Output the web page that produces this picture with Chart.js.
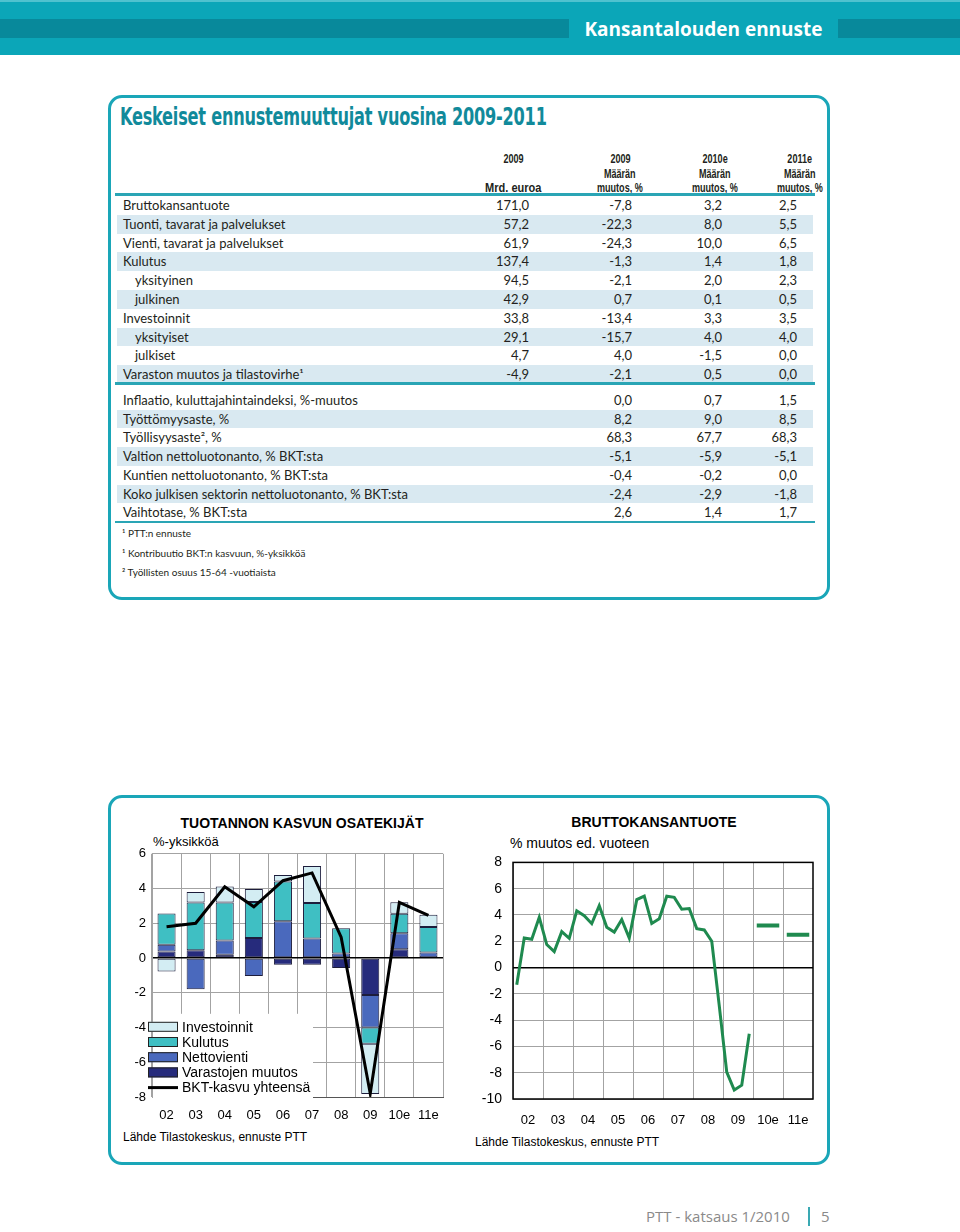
<!DOCTYPE html>
<html lang="fi">
<head>
<meta charset="utf-8">
<script src="https://cdn.jsdelivr.net/npm/chart.js@4.4.1/dist/chart.umd.min.js"></script>
<style>
  body { margin: 0; background: #fff; }
  #page { position: relative; width: 960px; height: 1232px; overflow: hidden; font-family: Lato, "Liberation Sans", sans-serif; color: #231f20; }
  .abs { position: absolute; white-space: nowrap; }
  #banner { left: 0; top: 0; width: 960px; height: 55px; background: #0ba6b8; border-top: 2px solid #4fc2cf; box-sizing: border-box; }
  #band { left: 0; top: 19px; width: 960px; height: 19px; background: #08899b; }
  #osio { left: 569px; top: 19px; width: 269px; height: 19px; background: #0ba6b8; color: #fff; font: bold 19px "Open Sans", sans-serif; line-height: 20px; text-align: center; }
  .laatikko { position: absolute; left: 108px; width: 722px; border: 3px solid #1aa6b8; border-radius: 14px; box-sizing: border-box; }
  #otsikko { left: 120px; top: 103px; font: bold 24px "Liberation Sans Narrow", "DejaVu Sans Condensed", sans-serif; color: #118a9b; transform-origin: left center; letter-spacing: -0.3px; }
  .hd { position: absolute; width: 80px; text-align: center; line-height: 14px; }
  .hd span { display: inline-block; font: bold 13px "Liberation Sans", Arial, sans-serif; transform-origin: center center; }
  .viiva { position: absolute; left: 115px; width: 700px; height: 2px; background: #2aa5b5; }
  .rivi { position: absolute; left: 117px; width: 696px; font-size: 13px; }
  .rivi.varjo { background: #d9e9f1; }
  .rivi span { position: absolute; top: 0; }
  .alaviite { font-size: 10px; left: 122px; }
  .ct { font-family: "Liberation Sans", Arial, sans-serif; color: #000; }
</style>
</head>
<body>
<div id="page">
  <div id="banner" class="abs"></div>
  <div id="band" class="abs"></div>
  <div id="osio" class="abs">Kansantalouden ennuste</div>

  <div class="laatikko" style="top:95px;height:505px;"></div>
  <div id="otsikko" class="abs">Keskeiset ennustemuuttujat vuosina 2009-2011</div>
  <div id="taulukko"></div>

  <div class="laatikko" style="top:795px;height:370px;"></div>
  <div class="abs ct" style="left:152px;top:814px;width:300px;text-align:center;font-weight:bold;font-size:14px;line-height:18px;">TUOTANNON KASVUN OSATEKIJÄT</div>
  <div class="abs ct" style="left:153px;top:834px;font-size:13px;line-height:16px;">%-yksikköä</div>
  <div class="abs" style="left:110px;top:840px;width:345px;height:287px;"><canvas id="kasvu" width="345" height="287"></canvas></div>
  <div class="abs ct" style="left:123px;top:1129px;font-size:12px;line-height:16px;">Lähde Tilastokeskus, ennuste PTT</div>

  <div class="abs ct" style="left:504px;top:813px;width:300px;text-align:center;font-weight:bold;font-size:14px;line-height:18px;">BRUTTOKANSANTUOTE</div>
  <div class="abs ct" style="left:510px;top:834px;font-size:14px;line-height:18px;">% muutos ed. vuoteen</div>
  <div class="abs" style="left:470px;top:843px;width:355px;height:290px;"><canvas id="bkt" width="355" height="290"></canvas></div>
  <div class="abs ct" style="left:475px;top:1134px;font-size:12px;line-height:16px;">Lähde Tilastokeskus, ennuste PTT</div>

  <div class="abs" style="left:646px;top:1206px;font:15px 'Open Sans',sans-serif;color:#8a8a8a;line-height:20px;">PTT - katsaus 1/2010</div>
  <div class="abs" style="left:808px;top:1207px;width:2px;height:19px;background:#3aa9b3;"></div>
  <div class="abs" style="left:821px;top:1206px;font:15px 'Open Sans',sans-serif;color:#8a8a8a;line-height:20px;">5</div>
</div>

<script>
// taulukko, osa 1
const rivit1 = ["Bruttokansantuote", "Tuonti, tavarat ja palvelukset", "Vienti, tavarat ja palvelukset", "Kulutus", "yksityinen", "julkinen", "Investoinnit", "yksityiset", "julkiset", "Varaston muutos ja tilastovirhe¹"];
const sisennys1 = [0, 0, 0, 0, 1, 1, 0, 1, 1, 0];
const mrdEuroa2009 = ["171,0", "57,2", "61,9", "137,4", "94,5", "42,9", "33,8", "29,1", "4,7", "-4,9"];
const muutos2009 = ["-7,8", "-22,3", "-24,3", "-1,3", "-2,1", "0,7", "-13,4", "-15,7", "4,0", "-2,1"];
const muutos2010 = ["3,2", "8,0", "10,0", "1,4", "2,0", "0,1", "3,3", "4,0", "-1,5", "0,5"];
const muutos2011 = ["2,5", "5,5", "6,5", "1,8", "2,3", "0,5", "3,5", "4,0", "0,0", "0,0"];

// taulukko, osa 2
const rivit2 = ["Inflaatio, kuluttajahintaindeksi, %-muutos", "Työttömyysaste, %", "Työllisyysaste², %", "Valtion nettoluotonanto, % BKT:sta", "Kuntien nettoluotonanto, % BKT:sta", "Koko julkisen sektorin nettoluotonanto, % BKT:sta", "Vaihtotase, % BKT:sta"];
const arvot2009 = ["0,0", "8,2", "68,3", "-5,1", "-0,4", "-2,4", "2,6"];
const arvot2010 = ["0,7", "9,0", "67,7", "-5,9", "-0,2", "-2,9", "1,4"];
const arvot2011 = ["1,5", "8,5", "68,3", "-5,1", "0,0", "-1,8", "1,7"];

const alaviitteet = ["¹ PTT:n ennuste", "¹ Kontribuutio BKT:n kasvuun, %-yksikköä", "² Työllisten osuus 15-64 -vuotiaista"];

// kuvio 1: tuotannon kasvun osatekijät, %-yksikköä
const vuodet = ["02", "03", "04", "05", "06", "07", "08", "09", "10e", "11e"];
const varastot = [0.38, 0.45, 0.19, 1.15, -0.38, -0.38, -0.57, -2.13, 0.51, 0];
const nettovienti = [0.38, -1.8, 0.82, -1.04, 2.11, 1.13, 0.26, -1.87, 0.91, 0.32];
const kulutus = [1.8, 2.75, 2.18, 2.08, 2.29, 2.04, 1.46, -0.94, 1.13, 1.47];
const investoinnit = [-0.78, 0.6, 0.93, 0.75, 0.38, 2.13, 0, -2.89, 0.66, 0.7];
const bktKasvu = [1.8, 2.0, 4.1, 2.95, 4.45, 4.9, 1.2, -7.8, 3.2, 2.45];

// kuvio 2: bkt, % muutos ed. vuoteen, neljännesvuosittain 2002-2009
const bktNeljannes = [
  -1.3, 2.25, 2.15, 3.82,
  1.75, 1.22, 2.73, 2.22,
  4.32, 3.95, 3.34, 4.7,
  3.06, 2.7, 3.65, 2.25,
  5.17, 5.43, 3.35, 3.71,
  5.43, 5.34, 4.44, 4.49,
  2.96, 2.86, 2.0, -2.9,
  -7.95, -9.32, -8.95, -5.03
];
const ennusteVuodet = ["10e", "11e"];
const ennusteArvot = [3.2, 2.5];

// --- taulukon rakennus ---
const tk = document.getElementById("taulukko");
function lisaa(html) { tk.insertAdjacentHTML("beforeend", html); }

const otsakkeet = [
  { x: 513, r: ["2009", "", "Mrd. euroa"] },
  { x: 620, r: ["2009", "Määrän", "muutos, %"] },
  { x: 715, r: ["2010e", "Määrän", "muutos, %"] },
  { x: 800, r: ["2011e", "Määrän", "muutos, %"] },
];
otsakkeet.forEach(o => {
  o.r.forEach((t, i) => {
    lisaa(`<div class="hd" style="left:${o.x - 40}px;top:${150 + i * 14.5}px;"><span>${t}</span></div>`);
  });
});
// kapeampi otsakefontti: "muutos, %" noin 46 px, "Mrd. euroa" noin 56 px leveä
const mallit = [...tk.querySelectorAll(".hd span")];
const kerroin = 46 / mallit.find(s => s.textContent === "muutos, %").offsetWidth;
mallit.forEach(s => {
  const k = s.textContent === "Mrd. euroa" ? 56 / s.offsetWidth : kerroin;
  s.style.transform = `scaleX(${k})`;
});

const oikeat = [284, 181, 91, 16];
const rk1 = 18.8;
lisaa(`<div class="viiva" style="top:193px;height:3px;"></div>`);
rivit1.forEach((nimi, i) => {
  const top = 196 + i * rk1;
  const vals = [mrdEuroa2009[i], muutos2009[i], muutos2010[i], muutos2011[i]];
  let h = `<div class="rivi${i % 2 ? " varjo" : ""}" style="top:${top}px;height:${rk1}px;line-height:${rk1}px;">`;
  h += `<span style="left:${sisennys1[i] ? 18 : 6}px;">${nimi}</span>`;
  vals.forEach((v, k) => { h += `<span style="right:${oikeat[k]}px;">${v}</span>`; });
  lisaa(h + "</div>");
});
lisaa(`<div class="viiva" style="top:382px;height:3px;"></div>`);

const rk2 = 18.7;
rivit2.forEach((nimi, i) => {
  const top = 391 + i * rk2;
  const vals = [arvot2009[i], arvot2010[i], arvot2011[i]];
  let h = `<div class="rivi${i % 2 ? " varjo" : ""}" style="top:${top}px;height:${rk2}px;line-height:${rk2}px;">`;
  h += `<span style="left:6px;">${nimi}</span>`;
  vals.forEach((v, k) => { h += `<span style="right:${oikeat[k + 1]}px;">${v}</span>`; });
  lisaa(h + "</div>");
});
lisaa(`<div class="viiva" style="top:521px;height:2px;"></div>`);
alaviitteet.forEach((t, i) => {
  lisaa(`<div class="abs alaviite" style="top:${526 + i * 19.5}px;line-height:14px;">${t}</div>`);
});

// otsikon leveys kuten alkuperäisessä
const ots = document.getElementById("otsikko");
ots.style.transform = `scaleX(${427 / ots.scrollWidth})`;

// --- kaaviot ---
Chart.defaults.font.family = "'Liberation Sans', Arial, sans-serif";
Chart.defaults.color = "#000";
Chart.defaults.animation = false;

const harmaa = "#a3a3a3";
const nollaViiva = {
  color: c => (c.tick && c.tick.value === 0 ? "#000" : harmaa),
  lineWidth: c => (c.tick && c.tick.value === 0 ? 1.5 : 1),
};

const selite = {
  id: "selite",
  afterDraw(chart) {
    const { ctx, chartArea } = chart;
    const l = chartArea.left, t = chartArea.top;
    ctx.save();
    ctx.fillStyle = "#fff";
    ctx.fillRect(l + 1, t + 160, 160, 85);
    const ds = chart.data.datasets;
    const jarj = [3, 2, 1, 0, 4];
    ctx.font = "14px 'Liberation Sans', Arial, sans-serif";
    ctx.textBaseline = "middle";
    jarj.forEach((k, i) => {
      const y = t + 173 + i * 15.2;
      const d = ds[k];
      if (d.type === "line") {
        ctx.strokeStyle = d.borderColor;
        ctx.lineWidth = 3;
        ctx.beginPath();
        ctx.moveTo(l - 4, y);
        ctx.lineTo(l + 26, y);
        ctx.stroke();
      } else {
        ctx.fillStyle = d.backgroundColor;
        ctx.fillRect(l - 4, y - 5, 30, 10);
        ctx.strokeStyle = "#222";
        ctx.lineWidth = 1;
        ctx.strokeRect(l - 3.5, y - 4.5, 29, 9);
      }
      ctx.fillStyle = "#000";
      ctx.fillText(d.label, l + 30, y + 1);
    });
    ctx.restore();
  },
};

const palkki = { borderColor: "#1d1d3c", borderWidth: 1, borderSkipped: false, order: 1, barPercentage: 0.62, categoryPercentage: 1 };

new Chart(document.getElementById("kasvu"), {
  type: "bar",
  data: {
    labels: vuodet,
    datasets: [
      { ...palkki, label: "Varastojen muutos", data: varastot, backgroundColor: "#262b7c" },
      { ...palkki, label: "Nettovienti", data: nettovienti, backgroundColor: "#4a69bd" },
      { ...palkki, label: "Kulutus", data: kulutus, backgroundColor: "#3fbfc3" },
      { ...palkki, label: "Investoinnit", data: investoinnit, backgroundColor: "#d3edf3" },
      { type: "line", label: "BKT-kasvu yhteensä", data: bktKasvu, borderColor: "#000", borderWidth: 3, pointRadius: 0, tension: 0, stack: "yhteensa", order: 0 },
    ],
  },
  options: {
    responsive: false,
    devicePixelRatio: 1,
    layout: { padding: { left: 0, right: 12, top: 10, bottom: 0 } },
    plugins: { legend: { display: false }, tooltip: { enabled: false } },
    scales: {
      x: {
        stacked: true,
        grid: { offset: true, drawTicks: false, color: harmaa },
        border: { color: "#555" },
        ticks: { padding: 11, font: { size: 13 }, autoSkip: false, maxRotation: 0 },
        afterFit: s => { s.height = 30; },
      },
      y: {
        stacked: true,
        min: -8,
        max: 6,
        ticks: { stepSize: 2, padding: 6, font: { size: 13 } },
        grid: { drawTicks: false, ...nollaViiva },
        border: { color: harmaa },
        afterFit: s => { s.width = 42; },
      },
    },
  },
  plugins: [selite],
});

const neljannekset = vuodet.flatMap(v => ["Q1", "Q2", "Q3", "Q4"].map(q => v + q));
const historia = neljannekset.map((q, i) => (i < bktNeljannes.length ? bktNeljannes[i] : null));
const ennusteSarja = k => neljannekset.map(q => (q.startsWith(ennusteVuodet[k]) ? ennusteArvot[k] : null));

const kehys = {
  id: "kehys",
  beforeDatasetsDraw(chart) {
    const { ctx, chartArea: a } = chart;
    ctx.save();
    ctx.strokeStyle = "#000";
    ctx.lineWidth = 1.5;
    ctx.strokeRect(a.left, a.top, a.right - a.left, a.bottom - a.top);
    ctx.restore();
  },
};

const vihrea = "#1f8a4f";
new Chart(document.getElementById("bkt"), {
  type: "line",
  data: {
    labels: neljannekset,
    datasets: [
      { label: "BKT", data: historia, borderColor: vihrea, borderWidth: 3, pointRadius: 0, tension: 0 },
      { label: "Ennuste 2010", data: ennusteSarja(0), borderColor: vihrea, borderWidth: 4, pointRadius: 0, borderCapStyle: "butt" },
      { label: "Ennuste 2011", data: ennusteSarja(1), borderColor: vihrea, borderWidth: 4, pointRadius: 0, borderCapStyle: "butt" },
    ],
  },
  options: {
    responsive: false,
    devicePixelRatio: 1,
    layout: { padding: { left: 0, right: 12, top: 10, bottom: 0 } },
    plugins: { legend: { display: false }, tooltip: { enabled: false } },
    scales: {
      x: {
        offset: true,
        ticks: { display: false },
        grid: { offset: true, drawTicks: false, color: c => (c.index !== undefined && c.index % 4 === 0 ? harmaa : "rgba(0,0,0,0)") },
        border: { display: false },
        afterFit: s => { s.height = 0; },
      },
      x2: {
        type: "category",
        position: "bottom",
        labels: vuodet,
        offset: true,
        grid: { display: false },
        border: { display: false },
        ticks: { padding: 6, font: { size: 13 }, autoSkip: false, maxRotation: 0 },
        afterFit: s => { s.height = 34; },
      },
      y: {
        min: -10,
        max: 8,
        ticks: { stepSize: 2, padding: 11, font: { size: 14 } },
        grid: { drawTicks: false, ...nollaViiva },
        border: { display: false },
        afterFit: s => { s.width = 43; },
      },
    },
  },
  plugins: [kehys],
});
</script>
</body>
</html>
